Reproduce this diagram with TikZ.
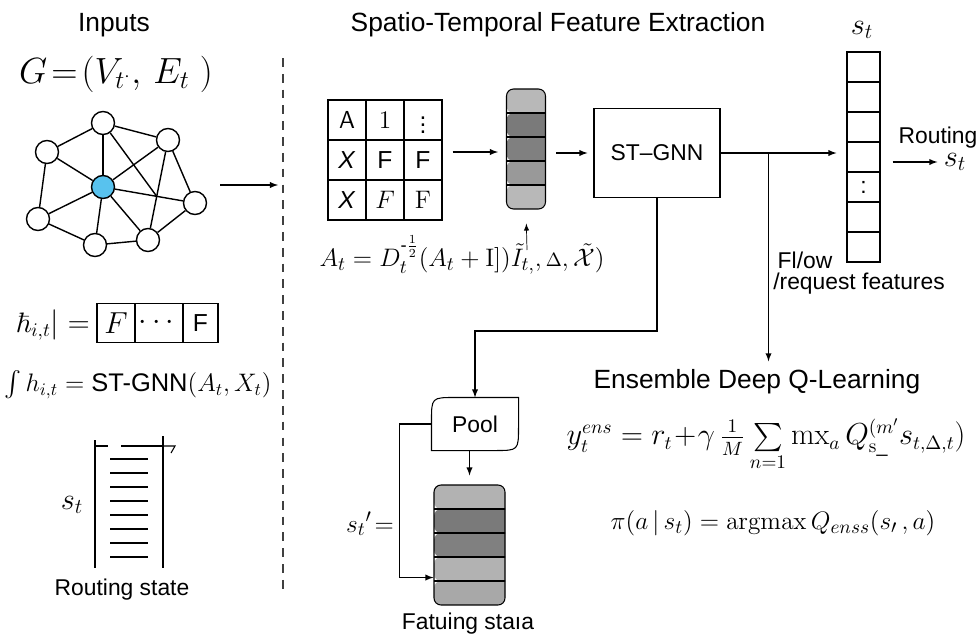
\documentclass[tikz,border=0pt]{standalone}
\usepackage{amssymb}
\usepackage{amsmath}
\usepackage[no-math]{fontspec}
\setmainfont{Liberation Sans}
\usetikzlibrary{calc}

\definecolor{nodeblue}{RGB}{88,194,238}

\tikzset{
	gnode/.style={circle,draw,thick,fill=white,minimum size=0.46cm,inner sep=0pt},
	cell/.style={draw,semithick,minimum width=0.76cm,minimum height=0.8cm,inner sep=0pt,font=\fontsize{14}{16}\selectfont},
	stripevec/.style={draw,semithick,rounded corners=4pt,minimum height=2.4cm,inner sep=0pt,
		path picture={
			\foreach \c [count=\i] in {#1}
				\fill[\c,draw=none] ($(path picture bounding box.north west)+(0,{(\i-1)*24})$) rectangle ++(100,24);
			\foreach \i in {1,...,4}
				\draw[semithick] ($(path picture bounding box.north west)+(0,{\i*24})$) -- ++(100,0);
		}},
	title/.style={font=\fontsize{15}{18}\selectfont},
	lbl/.style={font=\fontsize{13}{15}\selectfont},
	bigmath/.style={font=\fontsize{17}{20}\selectfont},
	midmath/.style={font=\fontsize{16}{19}\selectfont},
}

\begin{document}
\begin{tikzpicture}[x=0.02cm,y=-0.02cm,>=latex,semithick]
	\fill[white] (0,0) rectangle (979,639);
	\useasboundingbox (0,0) rectangle (979,639);
	
	%headings
	\node[title] (inp) at (114,25) {Inputs};
	\node[title] (stfe) at (558,25) {Spatio-Temporal Feature Extraction};
	
	%input graph
	\node[font=\fontsize{21}{24}\selectfont] (geq) at (116,74) {$G\!=\!(V_{t^{\cdot}},\,E_t\ )$};
	\node[gnode] (n1) at (103,123) {};
	\node[gnode] (n2) at (47,152) {};
	\node[gnode] (n3) at (168,140) {};
	\node[gnode,fill=nodeblue] (n0) at (103,187) {};
	\node[gnode] (n4) at (195,203) {};
	\node[gnode] (n5) at (38,219) {};
	\node[gnode] (n6) at (95,245) {};
	\node[gnode] (n7) at (148,240) {};
	\coordinate (jx) at (intersection of n0--n4 and n3--n7);
	\foreach \a/\b in {n1/n2,n1/n3,n1/n0,n2/n5,n2/n0,n3/n0,n3/n4,n3/n7,n0/n4,n0/n5,n0/n6,n0/n7,n5/n6,n6/n7,n7/n4}
		\draw[thick] (\a) -- (\b);
	\draw[thick] (n1) -- (jx);
	\coordinate (ga) at (220,185);
	\coordinate (gb) at (278,185);
	\draw[->] (ga) -- (gb);	%graph to extraction
	
	%divider
	\coordinate (dtop) at (283,58);
	\coordinate (dbot) at (283,590);
	\draw[thick,dash pattern=on 5pt off 4pt,black!75] (dtop) -- (dbot);
	
	%node embedding
	\node[midmath,anchor=east] (hlbl) at (96,325) {$\hbar_{i,t}|=$};
	\node[cell,minimum width=0.76cm,minimum height=0.78cm,font=\fontsize{16}{18}\selectfont] (h1) at (116,323) {$F$};
	\node[cell,minimum width=0.96cm,minimum height=0.78cm,font=\fontsize{16}{18}\selectfont] (h2) at (159,323) {$\cdots$};
	\node[cell,minimum width=0.70cm,minimum height=0.78cm] (h3) at (200.5,323) {F};
	\node[font=\fontsize{14.5}{17}\selectfont] (hint) at (138,385) {$\int h_{i,t}=\text{ST-GNN}(A_t,X_t)$};
	
	%routing state
	\draw (95,440) -- (95,568);
	\draw (163,436) -- (163,568);
	\draw (95,446) -- (108,446);
	\draw (121,446) -- (163,446);
	\draw (163,446) -- (175,446) -- (171,453);
	\foreach \yy in {459,473,...,557}
		\draw (110,\yy) -- (148,\yy);
	\node[bigmath] (stl) at (72,505) {$s_t$};
	\node[lbl] (rs) at (122,590) {Routing state};
	
	%adjacency matrix
	\foreach \lab [count=\k from 0] in {\textsf{A},$1$,$\vdots$,\textit{X},F,F,\textit{X},$F$,$\mathrm{F}$}
		\node[cell] (m\k) at ({347+38*mod(\k,3)},{120+40*div(\k,3)}) {\lab};
	\node[font=\fontsize{15}{18}\selectfont] (aeq) at (462,255) {$A_t = D_t^{\text{-}\frac{1}{2}}(A_t +\mathrm{I}])\tilde{I}_{t,},{\scriptstyle\Delta},\tilde{\mathcal{X}})$};
	
	%feature vector and ST-GNN
	\node[stripevec={black!28,black!52,black!50,black!40,black!28},minimum width=0.78cm] (fv1) at (526,149) {};
	\node[draw,semithick,minimum width=2.52cm,minimum height=1.78cm,lbl] (gnn) at (657,153) {ST--GNN};
	\draw[->] ($(m5.east |- fv1.west)+(10,3)$) -- ($(fv1.west)+(-8,3)$);
	\draw[->] ($(gnn.west -| fv1.east)+(10,0)$) -- ($(gnn.west)+(-6,0)$);
	\coordinate (aup) at (527,250);
	\draw[->,thin,shorten >=0.28cm] (aup) -- (fv1.south);
	
	%state vector
	\foreach \i/\t in {1/,2/,3/,4/,5/:,6/,7/}
		\node[draw,semithick,minimum width=0.66cm,minimum height=0.6cm,inner sep=0pt,lbl] (sv\i) at (863.5,{37+30*\i}) {\t};
	\node[bigmath] (stop) at (862,30) {$s_t$};
	\draw[->] (gnn.east) -- ($(gnn.east -| sv4.west)+(-10,0)$);
	\node[lbl] (rt) at (938,138) {Routing};
	\node[bigmath] (sout) at (955,162) {$s_t$};
	\draw[->] ($(sv4.east |- sout.west)+(12,0)$) -- (sout.west);
	\node[lbl] (flow) at (805,260) {Fl/ow};
	\node[lbl] (req) at (859,284) {/request features};
	
	%pooling branch
	\node[minimum width=1.72cm,minimum height=1.04cm,inner sep=0pt,lbl] (pool) at (475,424) {Pool};
	\draw (pool.south west) -- ($(pool.north west)+(0,24)$) .. controls (pool.north west) .. ($(pool.north west)+(24,0)$)
		-- (pool.north east) -- ($(pool.south east)+(0,-24)$) .. controls (pool.south east) .. ($(pool.south east)+(-24,0)$) -- cycle;
	\draw[->] (gnn.south) -- ++(0,133) -| (pool.north);
	\node[stripevec={black!30,black!52,black!50,black!30,black!34},minimum width=1.42cm] (fv2) at (469.5,545) {};
	\draw[->] (pool.south -| fv2.north) -- ($(fv2.north)+(0,-9)$);
	\draw[->] (pool.west) -- ++(-32,0) |- ($(fv2.south west)+(0,-28)$);
	\node[font=\fontsize{15}{18}\selectfont] (stp) at (370,524) {$s_{t}{}'\!=$};
	\node[lbl] (fst) at (468,624) {Fatuing staıa};
	
	%ensemble deep q-learning
	\coordinate (br) at ($(gnn.east)+(48,0)$);
	\node[title] (edq) at (757,382) {Ensemble Deep Q-Learning};
	\draw[->] (br) -- ($(br |- edq.north)+(0,-2)$);
	\node[midmath] (yeq) at (766,445) {$y_t^{ens}=r_t\!+\!\gamma\,\frac{1}{M}\sum\limits_{n=1}\mathrm{mx}_a\,Q^{(m'}_{\mathrm{s}\_}s_{t,\Delta,t})$};
	\node[font=\fontsize{15.5}{18}\selectfont] (pieq) at (773,523) {$\pi(a\,|\,s_t)=\operatorname{argmax} Q_{enss}(s_{\prime}\,,a)$};
	
	%\draw[help lines] (0,0) grid (979,639);
\end{tikzpicture}
\end{document}
